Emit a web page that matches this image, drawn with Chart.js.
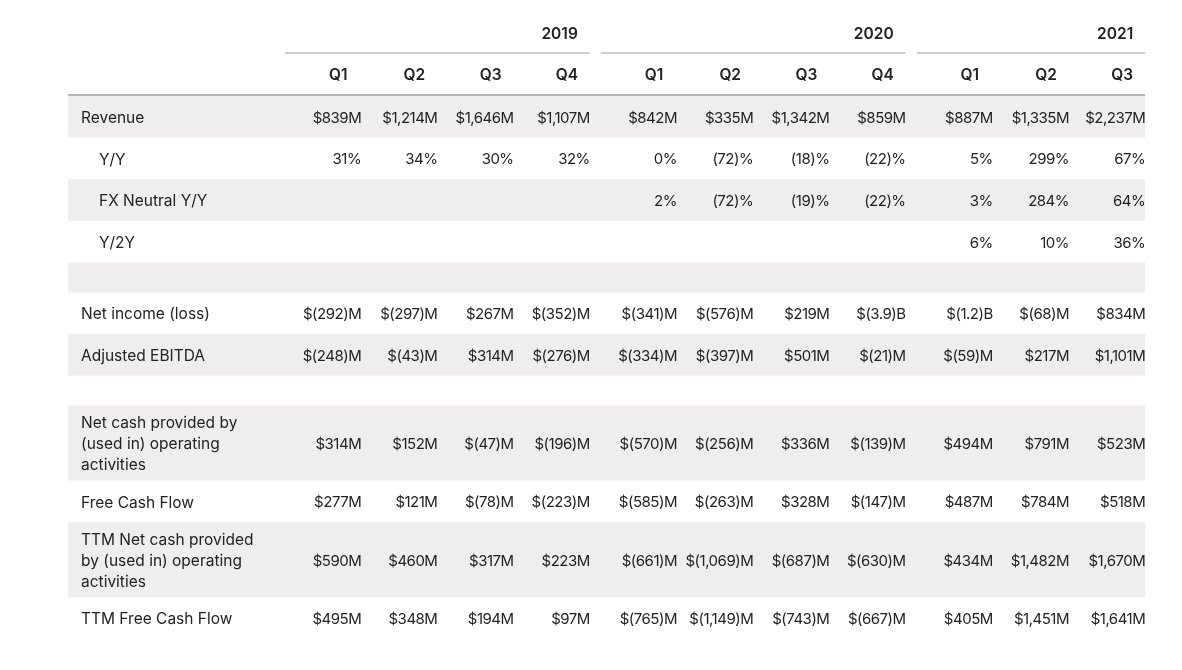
<!DOCTYPE html>
<html>
<head>
<meta charset="utf-8">
<script src="https://cdn.jsdelivr.net/npm/chart.js@4.4.1/dist/chart.umd.min.js"></script>
<style>
  html, body { margin: 0; padding: 0; background: #ffffff; }
  #wrap { width: 1182px; height: 670px; position: relative; }
</style>
</head>
<body>
<div id="wrap"><canvas id="table-chart"></canvas></div>
<script>
// Tableau trimestriel dessiné sur un canvas Chart.js

const years = ['2019', '2020', '2021'];
const quarters = ['Q1', 'Q2', 'Q3', 'Q4', 'Q1', 'Q2', 'Q3', 'Q4', 'Q1', 'Q2', 'Q3'];

// valeurs en millions de $
const revenue = [839, 1214, 1646, 1107, 842, 335, 1342, 859, 887, 1335, 2237];
const revenueYoY = [31, 34, 30, 32, 0, -72, -18, -22, 5, 299, 67];
const revenueFxYoY = [null, null, null, null, 2, -72, -19, -22, 3, 284, 64];
const revenueY2Y = [null, null, null, null, null, null, null, null, 6, 10, 36];
const netIncome = [-292, -297, 267, -352, -341, -576, 219, -3900, -1200, -68, 834];
const adjustedEbitda = [-248, -43, 314, -276, -334, -397, 501, -21, -59, 217, 1101];
const netCashOps = [314, 152, -47, -196, -570, -256, 336, -139, 494, 791, 523];
const freeCashFlow = [277, 121, -78, -223, -585, -263, 328, -147, 487, 784, 518];
const ttmNetCashOps = [590, 460, 317, 223, -661, -1069, -687, -630, 434, 1482, 1670];
const ttmFreeCashFlow = [495, 348, 194, 97, -765, -1149, -743, -667, 405, 1451, 1641];

const rowLabels = {
    revenue: ['Revenue'],
    yoy: ['Y/Y'],
    fx: ['FX Neutral Y/Y'],
    y2y: ['Y/2Y'],
    netIncome: ['Net income (loss)'],
    ebitda: ['Adjusted EBITDA'],
    netCash: ['Net cash provided by', '(used in) operating', 'activities'],
    fcf: ['Free Cash Flow'],
    ttmNetCash: ['TTM Net cash provided', 'by (used in) operating', 'activities'],
    ttmFcf: ['TTM Free Cash Flow']
};

function fmtThousands(n) {
    return n.toString().replace(/\B(?=(\d{3})+(?!\d))/g, ',');
}

function formatMoney(v, billions) {
    if (v === null) return '';
    const abs = Math.abs(v);
    if (billions && abs >= 1000) {
        const b = (abs / 1000).toFixed(1);
        return v < 0 ? '$(' + b + ')B' : '$' + b + 'B';
    }
    const body = fmtThousands(abs);
    return v < 0 ? '$(' + body + ')M' : '$' + body + 'M';
}

function formatPct(v) {
    if (v === null) return '';
    return v < 0 ? '(' + Math.abs(v) + ')%' : v + '%';
}

const rows = [
    { label: rowLabels.revenue, cells: revenue.map(v => formatMoney(v)) },
    { label: rowLabels.yoy, indent: true, cells: revenueYoY.map(formatPct) },
    { label: rowLabels.fx, indent: true, cells: revenueFxYoY.map(formatPct) },
    { label: rowLabels.y2y, indent: true, cells: revenueY2Y.map(formatPct) },
    { spacer: true },
    { label: rowLabels.netIncome, cells: netIncome.map(v => formatMoney(v, true)) },
    { label: rowLabels.ebitda, cells: adjustedEbitda.map(v => formatMoney(v)) },
    { spacer: true },
    { label: rowLabels.netCash, cells: netCashOps.map(v => formatMoney(v)) },
    { label: rowLabels.fcf, cells: freeCashFlow.map(v => formatMoney(v)) },
    { label: rowLabels.ttmNetCash, cells: ttmNetCashOps.map(v => formatMoney(v)) },
    { label: rowLabels.ttmFcf, cells: ttmFreeCashFlow.map(v => formatMoney(v)) }
];

// mise en page (unités des échelles)
const TABLE_LEFT = 68;
const LABEL_W = 217;
const COL_W = 76.2;
const GROUP_GAP = 11;
const YEAR_Y = 34.5;
const YEAR_LINE_Y = 53;
const QUARTER_Y = 75.5;
const HEADER_LINE_Y = 95;
const ROW_H = 41.6;
const SPACER_H = 30;
const LINE_H = 21;
const TEXT_SHIFT = 1.5;

const TEXT = '#222222';
const SHADE = '#efeeec';
const RULE = '#bdbdbd';
const FONT = 'Inter, "Noto Sans", sans-serif';

function colRight(i) {
    const g = Math.floor(i / 4);
    const k = i % 4;
    return TABLE_LEFT + LABEL_W + g * (4 * COL_W + GROUP_GAP) + (k + 1) * COL_W;
}
function groupLeft(g) {
    return TABLE_LEFT + LABEL_W + g * (4 * COL_W + GROUP_GAP);
}
function groupRight(g) {
    const n = Math.min(4, quarters.length - g * 4);
    return groupLeft(g) + n * COL_W;
}
function rowHeight(r) {
    if (r.spacer) return SPACER_H;
    return ROW_H + (r.label.length - 1) * 16.7;
}

const tablePlugin = {
    id: 'tablePlugin',
    afterDraw(chart) {
        const ctx = chart.ctx;
        const xs = chart.scales.x;
        const ys = chart.scales.y;
        const X = v => xs.getPixelForValue(v);
        const Y = v => ys.getPixelForValue(v);
        const tableRight = groupRight(years.length - 1);

        ctx.save();
        ctx.textBaseline = 'middle';

        // années
        ctx.font = '600 15.5px ' + FONT;
        ctx.fillStyle = TEXT;
        ctx.textAlign = 'right';
        years.forEach((yr, g) => {
            ctx.fillText(yr, X(groupRight(g) - 12), Y(YEAR_Y));
            ctx.strokeStyle = RULE;
            ctx.lineWidth = 1.5;
            ctx.beginPath();
            ctx.moveTo(X(groupLeft(g)), Y(YEAR_LINE_Y));
            ctx.lineTo(X(groupRight(g)), Y(YEAR_LINE_Y));
            ctx.stroke();
        });

        // trimestres
        ctx.textAlign = 'center';
        quarters.forEach((q, i) => {
            ctx.fillText(q, X(colRight(i) - 23), Y(QUARTER_Y));
        });

        // lignes
        let top = HEADER_LINE_Y + 1;
        rows.forEach((r, idx) => {
            const h = rowHeight(r);
            if (idx % 2 === 0) {
                ctx.fillStyle = SHADE;
                ctx.fillRect(X(TABLE_LEFT), Y(top), X(tableRight) - X(TABLE_LEFT), Y(top + h) - Y(top));
            }
            if (!r.spacer) {
                const mid = top + h / 2 + TEXT_SHIFT;
                ctx.fillStyle = TEXT;
                ctx.font = '400 15.5px ' + FONT;
                ctx.letterSpacing = '0px';
                ctx.textAlign = 'left';
                const n = r.label.length;
                r.label.forEach((line, li) => {
                    const ly = mid + (li - (n - 1) / 2) * LINE_H;
                    ctx.fillText(line, X(TABLE_LEFT + (r.indent ? 31 : 13)), Y(ly));
                });
                ctx.font = '400 15px ' + FONT;
                ctx.letterSpacing = '-0.5px';
                ctx.textAlign = 'right';
                r.cells.forEach((c, i) => {
                    if (c) ctx.fillText(c, X(colRight(i)), Y(mid));
                });
                ctx.letterSpacing = '0px';
            }
            top += h;
        });

        // filet sous les trimestres
        ctx.strokeStyle = '#b5b5b5';
        ctx.lineWidth = 2;
        ctx.beginPath();
        ctx.moveTo(X(TABLE_LEFT), Y(HEADER_LINE_Y));
        ctx.lineTo(X(tableRight), Y(HEADER_LINE_Y));
        ctx.stroke();

        ctx.restore();
    }
};

document.addEventListener('DOMContentLoaded', function() {
    const canvas = document.getElementById('table-chart');
    new Chart(canvas, {
        type: 'scatter',
        data: { datasets: [{ data: [], pointRadius: 0 }] },
        options: {
            responsive: true,
            maintainAspectRatio: false,
            animation: false,
            layout: { padding: 0 },
            plugins: { legend: { display: false }, tooltip: { enabled: false } },
            scales: {
                x: { type: 'linear', display: false, min: 0, max: 1182 },
                y: { type: 'linear', display: false, min: 0, max: 670, reverse: true }
            }
        },
        plugins: [tablePlugin]
    });
});
</script>
</body>
</html>
